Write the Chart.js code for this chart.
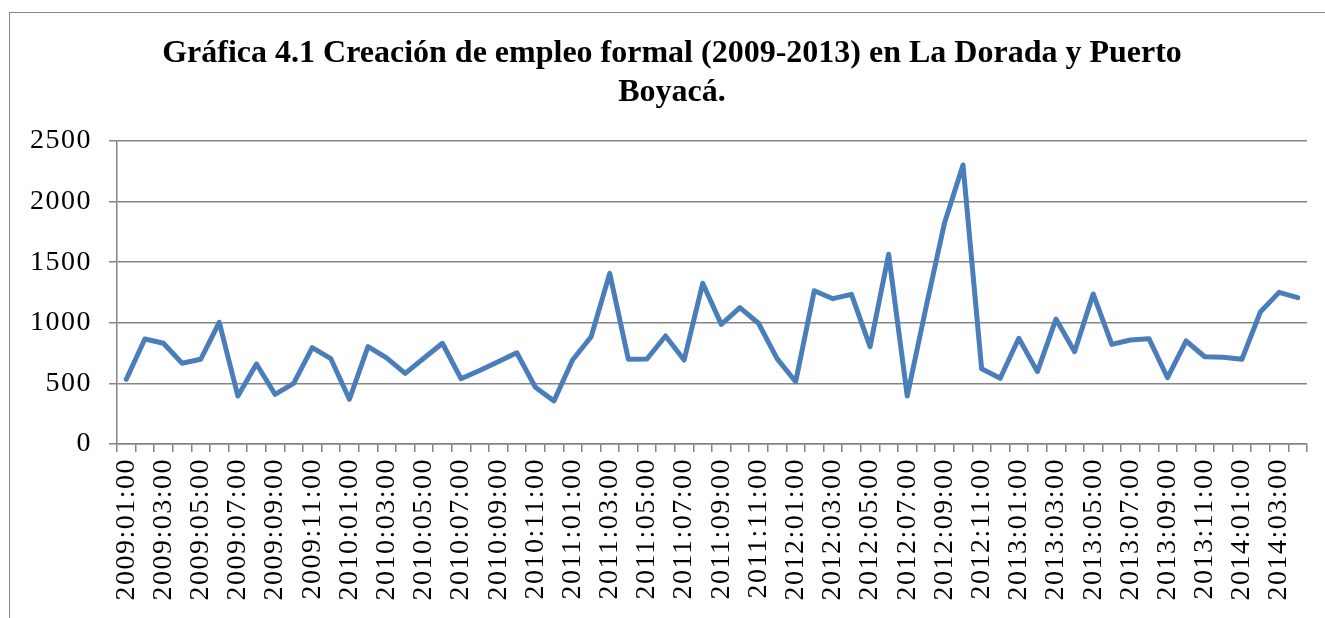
<!DOCTYPE html>
<html lang="es">
<head>
    <title>Creación de empleo formal</title>
    <meta charset="UTF-8">
    <style>
        html, body {
            margin: 0;
            padding: 0;
            background: #ffffff;
            overflow: hidden;
        }
        #page {
            position: relative;
            width: 1325px;
            height: 618px;
            overflow: hidden;
        }
        #frame {
            position: absolute;
            left: 9px;
            top: 12px;
            width: 1400px;
            height: 700px;
            border: 1px solid #878787;
        }
        #title {
            position: absolute;
            left: 9px;
            top: 32px;
            width: 1326px;
            text-align: center;
            font-family: "Liberation Serif", "Times New Roman", serif;
            font-weight: bold;
            font-size: 32px;
            line-height: 39px;
            color: #000;
        }
        #chart-box {
            position: absolute;
            left: 0;
            top: 0;
            width: 1325px;
            height: 618px;
        }
    </style>
</head>
<body>
<div id="page">
    <div id="frame"></div>
    <div id="chart-box">
        <canvas id="empleo-plot"></canvas>
    </div>
    <div id="title">Gráfica 4.1 Creación de empleo formal (2009-2013) en La Dorada y Puerto<br>Boyacá.</div>
</div>
<script src="https://cdn.jsdelivr.net/npm/chart.js"></script>
<script>
    const meses = [
        '2009:01:00', '2009:02:00', '2009:03:00', '2009:04:00', '2009:05:00', '2009:06:00',
        '2009:07:00', '2009:08:00', '2009:09:00', '2009:10:00', '2009:11:00', '2009:12:00',
        '2010:01:00', '2010:02:00', '2010:03:00', '2010:04:00', '2010:05:00', '2010:06:00',
        '2010:07:00', '2010:08:00', '2010:09:00', '2010:10:00', '2010:11:00', '2010:12:00',
        '2011:01:00', '2011:02:00', '2011:03:00', '2011:04:00', '2011:05:00', '2011:06:00',
        '2011:07:00', '2011:08:00', '2011:09:00', '2011:10:00', '2011:11:00', '2011:12:00',
        '2012:01:00', '2012:02:00', '2012:03:00', '2012:04:00', '2012:05:00', '2012:06:00',
        '2012:07:00', '2012:08:00', '2012:09:00', '2012:10:00', '2012:11:00', '2012:12:00',
        '2013:01:00', '2013:02:00', '2013:03:00', '2013:04:00', '2013:05:00', '2013:06:00',
        '2013:07:00', '2013:08:00', '2013:09:00', '2013:10:00', '2013:11:00', '2013:12:00',
        '2014:01:00', '2014:02:00', '2014:03:00', '2014:04:00'
    ];

    const empleos = [
        534, 866, 831, 666, 699, 1004, 396, 660, 410, 500, 795, 704,
        369, 803, 710, 583, 707, 831, 539, 607, 678, 753, 468, 355,
        693, 885, 1408, 699, 701, 891, 693, 1326, 987, 1125, 996, 704,
        514, 1265, 1199, 1235, 803, 1565, 396, 1120, 1821, 2302, 621, 542,
        872, 597, 1031, 762, 1238, 822, 858, 869, 547, 850, 720, 715,
        699, 1092, 1251, 1207
    ];

    const y_ticks = [0, 500, 1000, 1500, 2000, 2500];

    const gris = '#848484';

    // a bit wider text in the axes, like the original
    const spacing = {
        id: 'spacing',
        beforeLayout(chart) { chart.ctx.letterSpacing = '1.5px'; },
        beforeDraw(chart) { chart.ctx.letterSpacing = '1.5px'; }
    };

    const ctx = document.getElementById('empleo-plot').getContext('2d');

    const empleo_plot = new Chart(ctx, {
        type: 'line',
        data: {
            labels: meses,
            datasets: [{
                label: 'Empleo formal',
                data: empleos,
                borderColor: '#4a7ebb',
                borderWidth: 5,
                borderJoinStyle: 'round',
                borderCapStyle: 'round',
                tension: 0,
                pointStyle: false
            }]
        },
        options: {
            responsive: true,
            maintainAspectRatio: false,
            animation: false,
            layout: {
                padding: { top: 141, right: 18, left: 0, bottom: 0 }
            },
            plugins: {
                legend: { display: false },
                title: { display: false },
                tooltip: { enabled: false }
            },
            scales: {
                x: {
                    type: 'category',
                    offset: true,
                    afterFit: (s) => {
                        s.height = 174;
                        s.paddingLeft = 0;
                        s.paddingRight = 0;
                    },
                    grid: {
                        offset: true,
                        drawOnChartArea: false,
                        drawTicks: true,
                        tickLength: 8,
                        color: gris,
                        lineWidth: 1.5
                    },
                    border: { display: true, color: gris, width: 1.5 },
                    ticks: {
                        autoSkip: false,
                        maxRotation: 90,
                        minRotation: 90,
                        padding: 6,
                        color: '#000',
                        font: { family: 'Liberation Serif', size: 28 },
                        callback: function (value, index) {
                            return index % 2 === 0 ? this.getLabelForValue(value) : '';
                        }
                    }
                },
                y: {
                    min: 0,
                    max: 2500,
                    afterFit: (s) => { s.width = 117; },
                    afterBuildTicks: (s) => { s.ticks = y_ticks.map(v => ({ value: v })); },
                    grid: {
                        drawOnChartArea: true,
                        drawTicks: true,
                        tickLength: 8,
                        color: gris,
                        lineWidth: 1.5
                    },
                    border: { display: true, color: gris, width: 1.5 },
                    ticks: {
                        padding: 17,
                        color: '#000',
                        font: { family: 'Liberation Serif', size: 28 },
                        callback: (value) => String(value)
                    }
                }
            }
        },
        plugins: [spacing]
    });
</script>
</body>
</html>
